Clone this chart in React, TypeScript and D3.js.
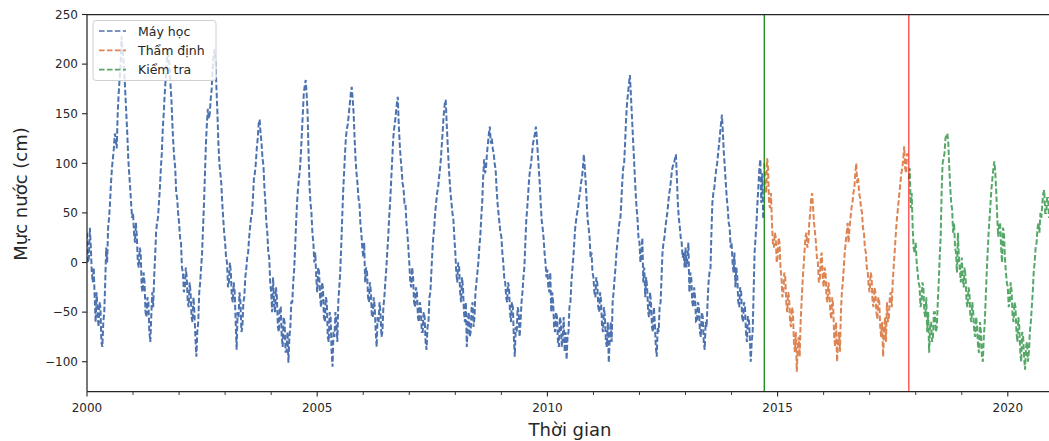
import React from "react";
import * as d3 from "d3";

// ---- data: water level readings (cm), 48 per year (~weekly), grouped by chunk ----
const STEP = 1 / 48;

const trainStarts = [2000, 2001, 2002, 2003, 2004, 2005, 2006, 2007, 2008, 2009, 2010, 2011, 2012, 2013, 2014];
const trainValues: number[][] = [
  // 2000
  [30, 0, 5, 35, 15, -10, -20, -5, -35, -60, -30, -50, -65, -40, -45, -80, -85, -60, -50, -20, 15, 0, 35, 45,
   60, 80, 95, 105, 115, 130, 125, 115, 150, 170, 185, 200, 228, 215, 205, 190, 170, 150, 130, 105, 90, 75, 60, 45],
  // 2001
  [50, 30, 20, 40, 25, 0, -5, 15, 10, -25, -30, -10, -20, -50, -55, -35, -40, -70, -80, -55, -30, -45, -15, 5,
   30, 40, 45, 60, 75, 95, 110, 135, 150, 170, 185, 200, 215, 205, 200, 180, 165, 140, 120, 105, 95, 70, 65, 50],
  // 2002
  [40, 25, 20, -5, -10, -30, -25, -5, -15, -40, -45, -20, -30, -55, -60, -35, -50, -75, -95, -70, -60, -30, -20, -5,
   10, 35, 60, 90, 120, 140, 155, 145, 150, 165, 175, 195, 210, 215, 200, 175, 150, 120, 100, 90, 80, 60, 45, 30],
  // 2003
  [20, 5, 0, -25, -20, 0, -10, -35, -40, -20, -30, -60, -88, -50, -55, -30, -40, -70, -65, -40, -35, -15, -7, 5,
   10, 25, 35, 45, 50, 65, 84, 90, 100, 115, 125, 140, 144, 130, 120, 105, 97, 75, 60, 40, 30, 10, 5, -20],
  // 2004
  [-30, -50, -15, -40, -50, -25, -35, -65, -70, -45, -45, -75, -85, -55, -60, -90, -90, -70, -101, -75, -65, -40, -40, -20,
   -7, 15, 40, 60, 75, 85, 94, 110, 130, 150, 170, 178, 184, 170, 150, 110, 77, 60, 50, 30, 20, 0, 10, -15],
  // 2005
  [-30, -5, -10, -35, -45, -20, -25, -55, -60, -35, -40, -75, -80, -50, -55, -90, -105, -70, -75, -50, -60, -80, -40, -25,
   -10, 15, 43, 70, 90, 110, 127, 135, 140, 150, 160, 170, 177, 165, 150, 125, 104, 90, 80, 65, 60, 40, 30, 15],
  // 2006
  [5, 20, -20, -5, -10, -35, -40, -20, -30, -55, -55, -35, -45, -70, -85, -55, -60, -40, -50, -75, -70, -45, -35, -20,
   -7, 10, 25, 45, 60, 80, 100, 120, 134, 140, 150, 160, 167, 140, 120, 105, 94, 80, 75, 60, 60, 40, 30, 15],
  // 2007
  [0, -20, -25, -5, -15, -40, -45, -25, -30, -55, -60, -40, -45, -70, -70, -50, -55, -80, -88, -65, -60, -35, -30, -10,
   10, 25, 35, 50, 60, 70, 75, 85, 94, 105, 120, 135, 150, 160, 164, 140, 120, 100, 84, 70, 60, 50, 43, 25],
  // 2008
  [10, -10, -20, 0, -5, -30, -40, -15, -25, -50, -60, -40, -85, -60, -50, -75, -70, -45, -40, -65, -55, -30, -20, -10,
   0, 15, 26, 45, 60, 85, 104, 90, 95, 110, 120, 130, 137, 120, 125, 115, 110, 100, 94, 75, 60, 50, 40, 30],
  // 2009
  [26, 10, 0, -15, -20, -35, -40, -20, -25, -50, -60, -40, -45, -75, -95, -65, -70, -45, -50, -75, -60, -40, -30, -15,
   -5, 20, 43, 55, 70, 85, 94, 100, 110, 120, 125, 130, 137, 125, 110, 95, 80, 60, 43, 35, 25, 10, 0, -15],
  // 2010
  [-7, -25, -30, -10, -50, -30, -40, -65, -70, -50, -55, -80, -85, -55, -60, -85, -75, -55, -90, -70, -98, -75, -70, -45,
   -40, -20, -7, 5, 20, 35, 43, 50, 55, 65, 70, 80, 85, 95, 109, 95, 80, 60, 43, 35, 25, 5, 10, -10],
  // 2011
  [-15, -30, -35, -15, -20, -45, -50, -30, -40, -65, -70, -45, -55, -80, -85, -60, -101, -75, -60, -80, -40, -30, -17, -5,
   10, 20, 30, 40, 43, 60, 80, 95, 100, 120, 144, 160, 170, 180, 189, 170, 150, 130, 110, 90, 70, 55, 43, 25],
  // 2012
  [20, 0, 10, 25, -20, -5, -35, -15, -25, -50, -55, -30, -40, -65, -70, -45, -60, -85, -95, -65, -70, -45, -40, -15,
   10, 20, 25, 35, 43, 50, 60, 70, 75, 85, 94, 98, 100, 105, 109, 85, 60, 45, 36, 25, 20, 5, 10, -5],
  // 2013
  [15, -5, 5, 20, -30, -10, -15, -40, -45, -25, -35, -60, -60, -40, -45, -70, -75, -50, -55, -80, -88, -60, -65, -40,
   -20, -10, -7, 30, 60, 70, 75, 85, 94, 100, 110, 120, 130, 140, 149, 130, 110, 95, 80, 65, 55, 40, 36, 15],
  // 2014 (to mid-September)
  [20, 0, -10, 10, -25, -5, -15, -40, -45, -25, -30, -55, -60, -40, -45, -70, -80, -55, -55, -75, -100, -80, -70, -30,
   10, 25, 40, 60, 77, 95, 104, 60, 90, 45],
];

const valStarts = [2014.71, 2015, 2016, 2017];
const valValues: number[][] = [
  [100, 80, 70, 105, 95, 60, 55, 70, 40, 20, 15, 30, 25, 0],
  [5, 25, 20, -5, -15, -35, -30, -10, -15, -40, -50, -30, -35, -60, -65, -45, -50, -80, -90, -70, -110, -85, -75, -95,
   -60, -40, -20, -5, 10, 25, 30, 15, 20, 40, 50, 65, 70, 55, 40, 30, 20, 5, 0, -20, -17, 5, 10, -15],
  [-25, -5, -10, -35, -40, -20, -30, -50, -57, -35, -45, -75, -85, -60, -100, -80, -70, -90, -50, -30, -20, -5, 10, 20,
   30, 40, 20, 35, 45, 55, 60, 70, 75, 90, 100, 80, 85, 70, 65, 55, 50, 35, 30, 15, 10, -5, -10, -25],
  [-30, -10, -15, -40, -45, -25, -30, -50, -57, -35, -40, -65, -75, -60, -95, -70, -55, -80, -40, -60, -55, -35, -30, -45,
   -20, -5, 10, 25, 40, 50, 60, 70, 80, 90, 95, 105, 117, 95, 90, 110, 105],
];

const testStarts = [2017.85, 2018, 2019, 2020];
const testValues: number[][] = [
  [84, 95, 55, 70, 36, 15, 10],
  [20, 0, -10, -20, -24, -45, -40, -20, -25, -50, -55, -35, -70, -50, -91, -65, -60, -80, -75, -50, -50, -70, -65, -40,
   -20, 5, 26, 70, 100, 105, 110, 125, 129, 130, 120, 95, 75, 60, 53, 30, 40, 15, 10, -10, 30, 5, -7, -20],
  [5, -15, -25, -5, -15, -40, -45, -25, -30, -55, -60, -40, -50, -70, -75, -55, -65, -85, -91, -60, -70, -95, -100, -75,
   -60, -35, -10, 10, 30, 45, 60, 75, 85, 95, 102, 90, 70, 45, 26, 40, 40, 15, 0, 35, 30, 5, -10, -20],
  [-25, -45, -40, -20, -30, -55, -60, -40, -45, -70, -80, -55, -65, -90, -100, -70, -75, -95, -108, -85, -80, -100, -90, -70,
   -60, -45, -30, -10, 0, 15, 20, 35, 40, 30, 50, 45, 60, 70, 73, 50, 50, 65, 65, 45],
];

const seriesNames = ["Máy học", "Thẩm định", "Kiểm tra"];
const seriesColors = ["#4c72b0", "#dd8452", "#55a868"];
const splitYears = [2014.71, 2017.85];
const splitColors = ["#008000", "#ff0000"];

const yTicks = [-100, -50, 0, 50, 100, 150, 200, 250];
const xMajorTicks = [2000, 2005, 2010, 2015, 2020];
const xMinorTicks = [2001, 2002, 2003, 2004, 2006, 2007, 2008, 2009, 2011, 2012, 2013, 2014, 2016, 2017, 2018, 2019, 2021];

const W = 1049;
const H = 441;
const left = 87;
const top = 14.5;
const bottom = 391.5;
const pxPerYear = 46.04;

function toPoints(starts: number[], chunks: number[][]): [number, number][] {
  const pts: [number, number][] = [];
  chunks.forEach((vals, c) => {
    vals.forEach((v, j) => pts.push([starts[c] + j * STEP, v]));
  });
  return pts;
}

export default function App() {
  const x = d3.scaleLinear().domain([2000, 2021]).range([left, left + 21 * pxPerYear]);
  const y = d3.scaleLinear().domain([-130, 250]).range([bottom, top]);

  const series = [
    toPoints(trainStarts, trainValues),
    toPoints(valStarts, valValues),
    toPoints(testStarts, testValues),
  ];
  const line = d3
    .line<[number, number]>()
    .x((d) => x(d[0]))
    .y((d) => y(d[1]));

  const font = "DejaVu Sans, sans-serif";
  const textColor = "#262626";
  const right = W + 5;

  return (
    <svg
      width={W}
      height={H}
      style={{ position: "absolute", left: 0, top: 0, background: "#fff" }}
      fontFamily={font}
    >
      <defs>
        <clipPath id="plot">
          <rect x={left} y={top} width={right - left} height={bottom - top} />
        </clipPath>
      </defs>
      <g clipPath="url(#plot)">
        {series.map((s, i) => (
          <path
            key={i}
            d={line(s) || ""}
            fill="none"
            stroke={seriesColors[i]}
            strokeWidth={2}
            strokeDasharray="5.55,2.4"
          />
        ))}
        {splitYears.map((yr, i) => (
          <line
            key={i}
            x1={x(yr)}
            x2={x(yr)}
            y1={top}
            y2={bottom}
            stroke={splitColors[i]}
            strokeOpacity={i === 1 ? 0.8 : 1}
            strokeWidth={1.2}
          />
        ))}
      </g>
      {/* spines */}
      <line x1={left} x2={left} y1={top} y2={bottom} stroke="#262626" strokeWidth={1.25} />
      <line x1={left} x2={right} y1={bottom} y2={bottom} stroke="#262626" strokeWidth={1.25} />
      <line x1={left} x2={right} y1={top} y2={top} stroke="#262626" strokeWidth={1.25} />
      {/* y ticks */}
      {yTicks.map((t) => (
        <g key={t}>
          <line x1={left - 5} x2={left} y1={y(t)} y2={y(t)} stroke="#262626" strokeWidth={1.1} />
          <text x={left - 9} y={y(t)} dy="0.36em" textAnchor="end" fontSize={12} fill={textColor}>
            {t < 0 ? "\u2212" + Math.abs(t) : t}
          </text>
        </g>
      ))}
      {/* x ticks */}
      {xMajorTicks.map((t) => (
        <g key={t}>
          <line x1={x(t)} x2={x(t)} y1={bottom} y2={bottom + 5} stroke="#262626" strokeWidth={1.1} />
          <text x={x(t)} y={bottom + 20} textAnchor="middle" fontSize={12} fill={textColor}>
            {t}
          </text>
        </g>
      ))}
      {xMinorTicks.map((t) => (
        <line key={t} x1={x(t)} x2={x(t)} y1={bottom} y2={bottom + 3.5} stroke="#262626" strokeWidth={0.9} />
      ))}
      {/* axis labels */}
      <text transform={`translate(27, 194) rotate(-90)`} textAnchor="middle" fontSize={18} fill={textColor}>
        Mực nước (cm)
      </text>
      <text x={570} y={436} textAnchor="middle" fontSize={18} fill={textColor}>
        Thời gian
      </text>
      {/* legend */}
      <g>
        <rect
          x={93}
          y={20.5}
          width={123}
          height={60}
          rx={3}
          fill="#fff"
          fillOpacity={0.8}
          stroke="#d0d0d0"
          strokeWidth={1}
        />
        {seriesNames.map((n, i) => (
          <g key={n} transform={`translate(0, ${31 + i * 19.3})`}>
            <line
              x1={99}
              x2={126}
              y1={0}
              y2={0}
              stroke={seriesColors[i]}
              strokeWidth={1.7}
              strokeDasharray="5.55,2.4"
            />
            <text x={138} y={0} dy="0.36em" fontSize={12.5} fill={textColor}>
              {n}
            </text>
          </g>
        ))}
      </g>
    </svg>
  );
}
